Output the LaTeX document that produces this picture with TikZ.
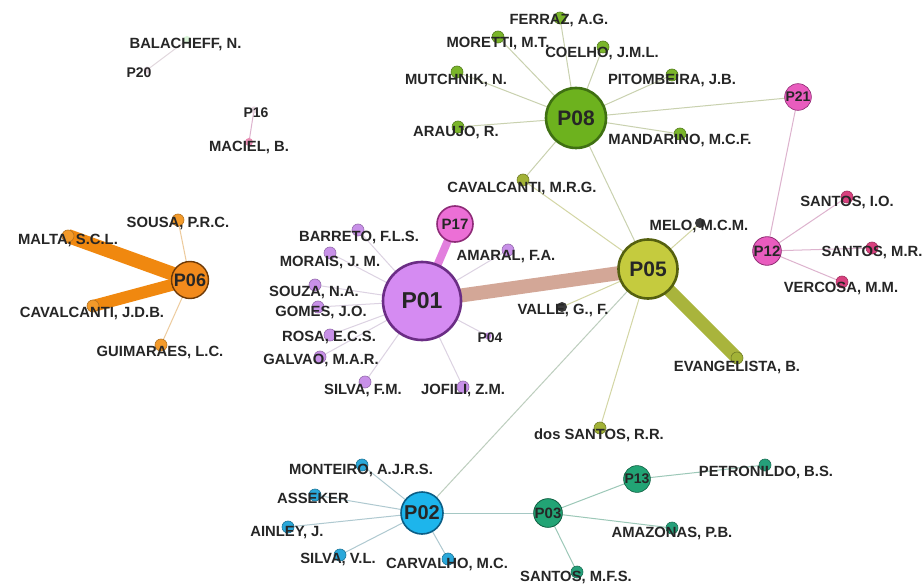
\documentclass[tikz,border=0pt]{standalone}
\usepackage{fontspec}
\setmainfont{Liberation Sans}
\pgfdeclarelayer{bg}
\pgfsetlayers{bg,main}
% hub colours
\definecolor{hubGreen}{HTML}{6DB21E}\definecolor{hubGreenB}{HTML}{3F7012}
\definecolor{hubOlive}{HTML}{C5CB3E}\definecolor{hubOliveB}{HTML}{55600F}
\definecolor{hubViolet}{HTML}{D58BF2}\definecolor{hubVioletB}{HTML}{6B2D85}
\definecolor{hubPink}{HTML}{EC6FD6}\definecolor{hubPinkB}{HTML}{8E2B78}
\definecolor{hubRose}{HTML}{E95CBE}\definecolor{hubRoseB}{HTML}{8E2A72}
\definecolor{hubOrange}{HTML}{F28A1C}\definecolor{hubOrangeB}{HTML}{6E3A08}
\definecolor{hubCyan}{HTML}{1DB5EC}\definecolor{hubCyanB}{HTML}{0B5E86}
\definecolor{hubTeal}{HTML}{22A475}\definecolor{hubTealB}{HTML}{0D5E40}
% small dot colours
\definecolor{dGreen}{HTML}{7AB52A}
\definecolor{dOlive}{HTML}{A2B236}
\definecolor{dDark}{HTML}{3A3A3A}
\definecolor{dViolet}{HTML}{C890E8}
\definecolor{dCrimson}{HTML}{D8407E}
\definecolor{dOrange}{HTML}{F39A2A}
\definecolor{dCyan}{HTML}{2AA8DA}
\definecolor{dTeal}{HTML}{25A07A}
\definecolor{dPale}{HTML}{E6D6E0}
% edge colours
\definecolor{eGreen}{HTML}{C9D1AF}
\definecolor{eOlive}{HTML}{D3D6A4}
\definecolor{eViolet}{HTML}{DCD2E2}
\definecolor{eCyan}{HTML}{AFC9D0}
\definecolor{eTeal}{HTML}{9CC8B8}
\definecolor{eRose}{HTML}{DDB3CE}
\definecolor{eOrange}{HTML}{EDCB9D}
\definecolor{eTan}{HTML}{D3A797}
\definecolor{eOliveThick}{HTML}{A9B43C}
\definecolor{eOrangeThick}{HTML}{F0880F}
\definecolor{eOrchid}{HTML}{E27FDE}
\definecolor{eFaint}{HTML}{E2D8DE}
\definecolor{labc}{HTML}{262626}
\tikzset{
  hub/.style={circle, line width=2.6pt, inner sep=0pt, text=labc, font=\bfseries},
  dot/.style={circle, inner sep=0pt, minimum size=12pt, line width=0.6pt},
  tiny/.style={circle, inner sep=0pt, minimum size=7pt},
  lab/.style={inner sep=0pt, text=labc, font=\bfseries\fontsize{14.8}{14.8}\selectfont},
  slab/.style={inner sep=0pt, text=labc, font=\bfseries\fontsize{14}{14}\selectfont},
  thin/.style={line width=1pt},
}
\begin{document}
\begin{tikzpicture}[x=1pt,y=-1pt]
\begin{pgfonlayer}{bg}
\fill[white] (0,0) rectangle (923,585);
\end{pgfonlayer}
\useasboundingbox (0,0) rectangle (923,585);

% ---- hubs ----
\node[hub, fill=hubViolet, draw=hubVioletB, minimum size=78pt, font=\bfseries\fontsize{23}{23}\selectfont] (p01) at (422,301) {P01};
\node[hub, fill=hubOlive, draw=hubOliveB, minimum size=59pt, font=\bfseries\fontsize{21}{21}\selectfont] (p05) at (648,269) {P05};
\node[hub, fill=hubGreen, draw=hubGreenB, minimum size=60pt, font=\bfseries\fontsize{21}{21}\selectfont] (p08) at (576,118) {P08};
\node[hub, fill=hubCyan, draw=hubCyanB, minimum size=42pt, line width=1.6pt, font=\bfseries\fontsize{20}{20}\selectfont] (p02) at (422,513) {P02};
\node[hub, fill=hubOrange, draw=hubOrangeB, minimum size=37pt, line width=1.4pt, font=\bfseries\fontsize{18}{18}\selectfont] (p06) at (190,280) {P06};
\node[hub, fill=hubPink, draw=hubPinkB, minimum size=36pt, line width=1.6pt, font=\bfseries\fontsize{15}{15}\selectfont] (p17) at (455,224) {P17};
\node[hub, fill=hubRose, draw=hubRoseB, minimum size=28pt, line width=0.8pt, font=\bfseries\fontsize{15}{15}\selectfont] (p12) at (767,251) {P12};
\node[hub, fill=hubTeal, draw=hubTealB, minimum size=28pt, line width=0.8pt, font=\bfseries\fontsize{15}{15}\selectfont] (p03) at (548,513) {P03};
\node[hub, fill=hubRose, draw=hubRoseB, minimum size=18pt, line width=0.6pt, font=\bfseries\fontsize{14}{14}\selectfont] (p21) at (798,97) {P21};
\node[hub, fill=hubTeal, draw=hubTealB, minimum size=19pt, line width=0.6pt, font=\bfseries\fontsize{14}{14}\selectfont] (p13) at (637,479) {P13};

% ---- minor papers (tiny dots) ----
\node[tiny, fill=dPale] (d20) at (147,70) {};
\node[tiny, fill=dPale] (d16) at (254,110) {};
\node[tiny, fill=dViolet] (d04) at (488,336) {};
\node[slab] (l20) at (139,73) {P20};
\node[slab] (l16) at (256,113) {P16};
\node[slab] (l04) at (490,338) {P04};

% ---- authors: dots ----
\node[dot, fill=dPale!70!green!40, minimum size=8pt] (dbal) at (187,40) {};
\node[dot, fill=dCrimson!60!white, minimum size=8pt] (dmac) at (249,142) {};

\foreach \n/\x/\y in {fer/560/18, mor/498/37, coe/603/47, mut/457/72, pit/672/75, ara/458/127, man/680/134}
  \node[dot, fill=dGreen, draw=dGreen!70!black] (d\n) at (\x,\y) {};
\node[dot, fill=dOlive, draw=dOlive!70!black] (dcmr) at (523,180) {};
\node[dot, fill=dOlive, draw=dOlive!70!black] (dsrr) at (600,428) {};
\node[dot, fill=dOlive, draw=dOlive!70!black] (deva) at (737,358) {};
\node[dot, fill=dDark, minimum size=10pt] (dmel) at (700,223) {};
\node[dot, fill=dDark, minimum size=10pt] (dval) at (562,307) {};

\foreach \n/\x/\y in {bar/358/230, mra/330/253, ama/508/250, sou/315/285, gom/318/307, ros/330/335, gal/320/357, sfm/365/382, jof/463/387}
  \node[dot, fill=dViolet, draw=dViolet!75!black] (d\n) at (\x,\y) {};

\foreach \n/\x/\y in {sio/847/197, smr/872/248, ver/842/282}
  \node[dot, fill=dCrimson, draw=dCrimson!75!black] (d\n) at (\x,\y) {};

\foreach \n/\x/\y in {spr/178/220, mal/68/236, cjd/93/306, gui/161/345}
  \node[dot, fill=dOrange, draw=dOrange!75!black] (d\n) at (\x,\y) {};

\foreach \n/\x/\y in {mon/362/465, ass/315/495, ain/288/527, svl/340/555, car/448/559}
  \node[dot, fill=dCyan, draw=dCyan!70!black] (d\n) at (\x,\y) {};

\foreach \n/\x/\y in {pet/765/465, amz/672/528, smf/577/572}
  \node[dot, fill=dTeal, draw=dTeal!70!black] (d\n) at (\x,\y) {};

% ---- authors: labels ----
\node[lab] (lbal) at (185.5,44) {BALACHEFF, N.};
\node[lab] (lmac) at (249,147) {MACIEL, B.};
\node[lab] (lfer) at (559,20) {FERRAZ, A.G.};
\node[lab] (lmor) at (498,43) {MORETTI, M.T.};
\node[lab] (lcoe) at (602,53) {COELHO, J.M.L.};
\node[lab] (lmut) at (456,80) {MUTCHNIK, N.};
\node[lab] (lpit) at (672,80) {PITOMBEIRA, J.B.};
\node[lab] (lara) at (456,132) {ARAUJO, R.};
\node[lab] (lman) at (680,140) {MANDARINO, M.C.F.};
\node[lab] (lcmr) at (522,188) {CAVALCANTI, M.R.G.};
\node[lab] (lmel) at (699,226) {MELO, M.C.M.};
\node[lab] (lval) at (563,310) {VALLE, G., F.};
\node[lab] (leva) at (737,367) {EVANGELISTA, B.};
\node[lab] (lsrr) at (599,435) {dos SANTOS, R.R.};
\node[lab] (lbar) at (359,237) {BARRETO, F.L.S.};
\node[lab] (lmra) at (330,262) {MORAIS, J. M.};
\node[lab] (lama) at (506,257) {AMARAL, F.A.};
\node[lab] (lsou) at (314,292) {SOUZA, N.A.};
\node[lab] (lgom) at (321,312) {GOMES, J.O.};
\node[lab] (lros) at (329,337) {ROSA, E.C.S.};
\node[lab] (lgal) at (321,360) {GALVAO, M.A.R.};
\node[lab] (lsfm) at (363,390) {SILVA, F.M.};
\node[lab] (ljof) at (463,390) {JOFILI, Z.M.};
\node[lab] (lsio) at (847,202) {SANTOS, I.O.};
\node[lab] (lsmr) at (872,252) {SANTOS, M.R.};
\node[lab] (lver) at (841,288) {VERCOSA, M.M.};
\node[lab] (lspr) at (178,223) {SOUSA, P.R.C.};
\node[lab] (lmal) at (68,240) {MALTA, S.C.L.};
\node[lab] (lcjd) at (92,313) {CAVALCANTI, J.D.B.};
\node[lab] (lgui) at (160,352) {GUIMARAES, L.C.};
\node[lab] (lmon) at (361,470) {MONTEIRO, A.J.R.S.};
\node[lab] (lass) at (313,498) {ASSEKER};
\node[lab] (lain) at (287,533) {AINLEY, J.};
\node[lab] (lsvl) at (338,559) {SILVA, V.L.};
\node[lab] (lcar) at (447,564) {CARVALHO, M.C.};
\node[lab] (lpet) at (766,472) {PETRONILDO, B.S.};
\node[lab] (lamz) at (672,533) {AMAZONAS, P.B.};
\node[lab] (lsmf) at (576,577) {SANTOS, M.F.S.};

% ---- connectors ----
\begin{pgfonlayer}{bg}
  \draw[thin, eFaint] (d20.center) -- (dbal.center);
  \draw[thin, eRose] (d16.center) -- (dmac.center);
  \foreach \n in {fer, mor, coe, mut, pit, ara, man, cmr}
    \draw[thin, eGreen] (p08.center) -- (d\n.center);
  \draw[thin, eGreen] (p08.center) -- (p21.center);
  \draw[thin, eGreen] (p08.center) -- (p05.center);
  \foreach \n in {cmr, mel, val, srr}
    \draw[thin, eOlive] (p05.center) -- (d\n.center);
  \draw[thin, eCyan!60!eOlive] (p05.center) -- (p02.center);
  \foreach \n in {bar, mra, ama, sou, gom, ros, gal, sfm, jof, 04}
    \draw[thin, eViolet] (p01.center) -- (d\n.center);
  \draw[thin, eRose] (p12.center) -- (p21.center);
  \foreach \n in {sio, smr, ver}
    \draw[thin, eRose] (p12.center) -- (d\n.center);
  \foreach \n in {spr, gui}
    \draw[thin, eOrange] (p06.center) -- (d\n.center);
  \foreach \n in {mon, ass, ain, svl, car}
    \draw[thin, eCyan] (p02.center) -- (d\n.center);
  \draw[thin, eCyan!50!eTeal] (p02.center) -- (p03.center);
  \foreach \n in {amz, smf}
    \draw[thin, eTeal] (p03.center) -- (d\n.center);
  \draw[thin, eTeal] (p03.center) -- (p13.center);
  \draw[thin, eTeal] (p13.center) -- (dpet.center);
  % heavy collaborations
  \draw[line width=14pt, eTan] (p01.center) -- (p05.center);
  \draw[line width=13pt, eOliveThick] (p05.center) -- (deva.center);
  \draw[line width=8pt, eOrchid] (p01.center) -- (p17.center);
  \draw[line width=14pt, eOrangeThick] (p06.center) -- (dmal.center);
  \draw[line width=12pt, eOrangeThick] (p06.center) -- (dcjd.center);
\end{pgfonlayer}
\end{tikzpicture}
\end{document}
